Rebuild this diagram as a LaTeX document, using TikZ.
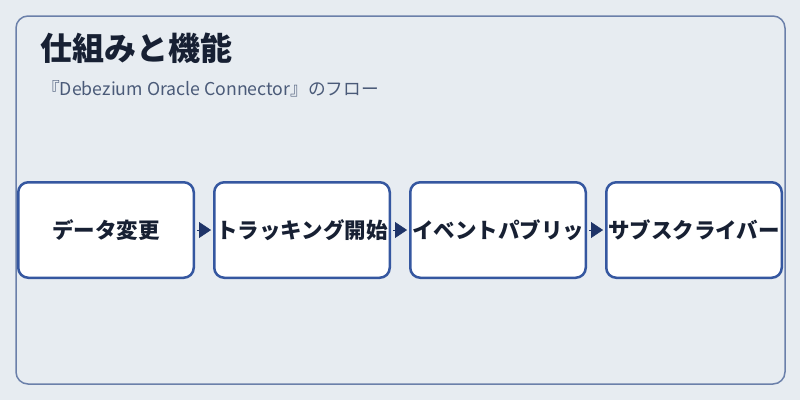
\documentclass[tikz,border=0pt]{standalone}
\usepackage{fontspec}
\setmainfont{Noto Sans CJK JP}
\usetikzlibrary{arrows.meta}
\definecolor{bg}{HTML}{E7ECF1}
\definecolor{frame}{HTML}{6B80AA}
\definecolor{boxline}{HTML}{3557A0}
\definecolor{txt}{HTML}{172033}
\definecolor{sub}{HTML}{4A5A78}
\definecolor{arr}{HTML}{1F3468}
\tikzset{
  stage/.style={draw=boxline, line width=2.5pt, fill=white, rounded corners=10pt,
    minimum width=175.5pt, minimum height=95.5pt, inner sep=0pt,
    font=\fontsize{21.5}{24}\selectfont\bfseries, text=txt},
  flow/.style={draw=arr, fill=arr, line width=0.4pt, -{Triangle[length=12pt,width=16pt]}}
}
\begin{document}
\begin{tikzpicture}[x=1pt,y=-1pt]
\fill[bg] (0,0) rectangle (800,400);
\useasboundingbox (0,0) rectangle (800,400);
\draw[frame, line width=1.5pt, rounded corners=12pt] (16,16) rectangle (785,384);
\node[anchor=base west, font=\fontsize{32}{36}\selectfont\bfseries, text=txt, inner sep=0pt] (title) at (40,60) {仕組みと機能};
\node[anchor=base west, font=\fontsize{17.7}{20}\selectfont, text=sub, inner sep=0pt] (subtitle) at (42,95) {『Debezium Oracle Connector』のフロー};
\node[stage] (a) at (106,230) {データ変更};
\node[stage] (b) at (302,230) {トラッキング開始};
\node[stage] (c) at (498,230) {イベントパブリッ};
\node[stage] (d) at (694,230) {サブスクライバー};
\draw[flow] ([xshift=2pt]a.east) -- ([xshift=-2pt]b.west);
\draw[flow] ([xshift=2pt]b.east) -- ([xshift=-2pt]c.west);
\draw[flow] ([xshift=2pt]c.east) -- ([xshift=-2pt]d.west);
\end{tikzpicture}
\end{document}
